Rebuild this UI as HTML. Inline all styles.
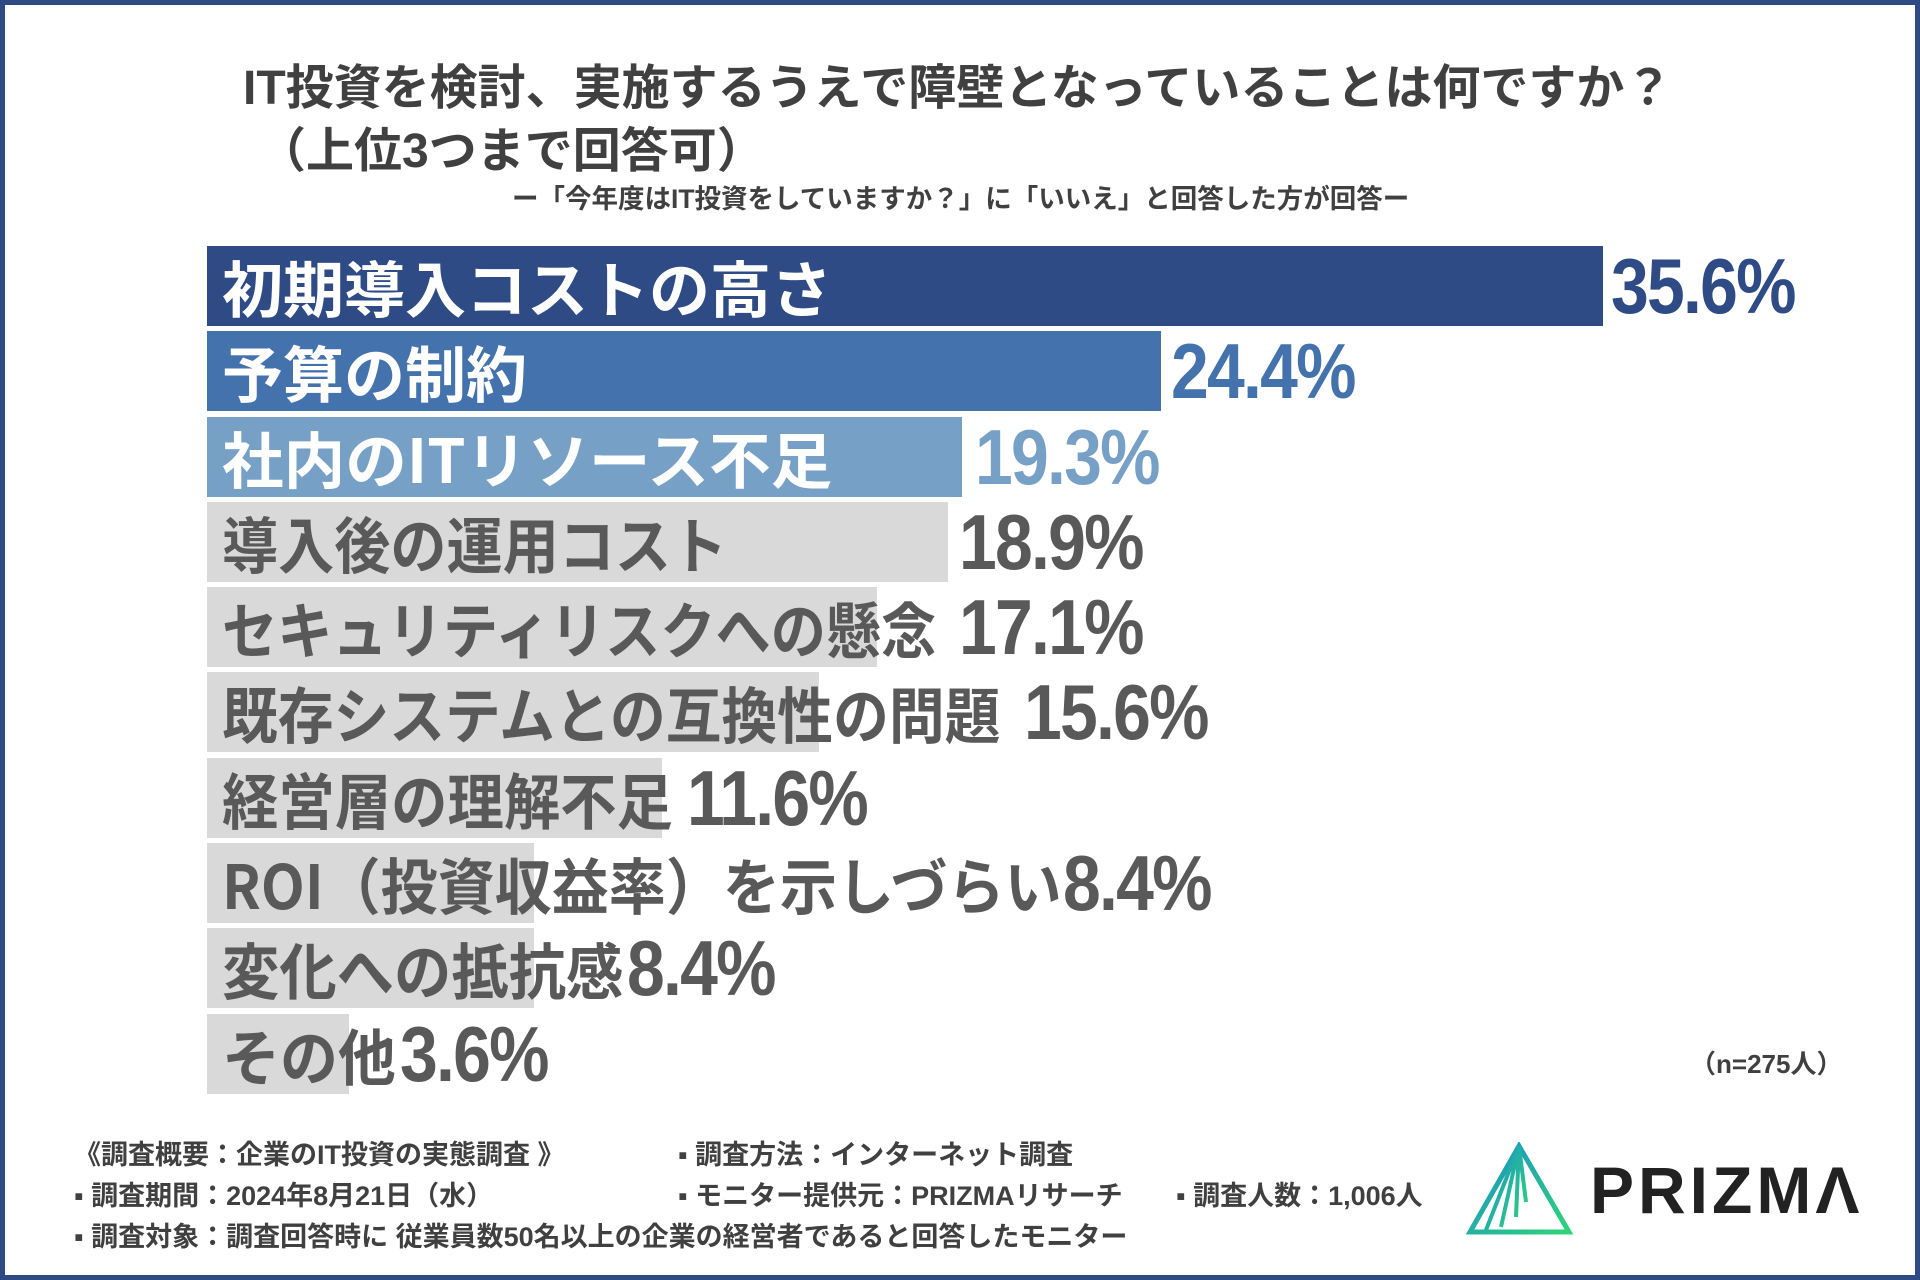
<!DOCTYPE html>
<html><head><meta charset="utf-8"><style>
body{margin:0;}
#c{position:relative;width:1920px;height:1280px;background:#fff;box-shadow:inset 0 0 0 5px #2e4b85;overflow:hidden;font-family:"Liberation Sans","Noto Sans CJK JP",sans-serif;}
.a{position:absolute;white-space:nowrap;}
.bar{position:absolute;left:207px;height:80px;}
.lb{position:absolute;left:222px;font-weight:bold;font-size:61px;line-height:80px;font-family:"Noto Sans CJK JP",sans-serif;transform-origin:left center;white-space:nowrap;}
.v{position:absolute;font-weight:bold;font-size:78px;line-height:80px;transform:scaleX(0.87);transform-origin:left center;font-family:"Liberation Sans",sans-serif;letter-spacing:-2px;}
.f{position:absolute;font-size:27px;font-weight:bold;color:#404040;font-family:"Liberation Sans","Noto Sans CJK JP",sans-serif;white-space:nowrap;}
</style></head><body><div id="c">
<div class="a" style="left:243px;top:48px;font-size:48px;font-weight:bold;color:#404040;font-family:'Liberation Sans','Noto Sans CJK JP',sans-serif;">IT投資を検討、実施するうえで障壁となっていることは何ですか？</div>
<div class="a" style="left:258px;top:111px;font-size:48px;font-weight:bold;color:#404040;font-family:'Liberation Sans','Noto Sans CJK JP',sans-serif;">（上位3つまで回答可）</div>
<div class="a" style="left:512px;top:177px;font-size:26.5px;font-weight:bold;color:#404040;font-family:'Liberation Sans','Noto Sans CJK JP',sans-serif;">ー「今年度はIT投資をしていますか？」に「いいえ」と回答した方が回答ー</div>

<div class="bar" style="top:246px;width:1396px;background:#2e4b85"></div>
<div class="bar" style="top:331px;width:954px;background:#4472ad"></div>
<div class="bar" style="top:417px;width:755px;background:#76a0c6"></div>
<div class="bar" style="top:502px;width:741px;background:#d9d9d9"></div>
<div class="bar" style="top:587px;width:670px;background:#d9d9d9"></div>
<div class="bar" style="top:672px;width:612px;background:#d9d9d9"></div>
<div class="bar" style="top:758px;width:455px;background:#d9d9d9"></div>
<div class="bar" style="top:843px;width:327px;background:#d9d9d9"></div>
<div class="bar" style="top:928px;width:327px;background:#d9d9d9"></div>
<div class="bar" style="top:1014px;width:142px;background:#d9d9d9"></div>

<div class="lb" style="top:246px;color:#fff">初期導入コストの高さ</div>
<div class="lb" style="top:331px;color:#fff">予算の制約</div>
<div class="lb" style="top:417px;color:#fff;transform:scaleX(1.01)">社内のITリソース不足</div>
<div class="lb" style="top:502px;color:#595959;transform:scaleX(0.92)">導入後の運用コスト</div>
<div class="lb" style="top:587px;color:#595959;transform:scaleX(0.905)">セキュリティリスクへの懸念</div>
<div class="lb" style="top:672px;color:#595959;transform:scaleX(0.914)">既存システムとの互換性の問題</div>
<div class="lb" style="top:758px;color:#595959;transform:scaleX(0.924)">経営層の理解不足</div>
<div class="lb" style="top:843px;color:#595959;transform:scaleX(0.935)">ROI（投資収益率）を示しづらい</div>
<div class="lb" style="top:928px;color:#595959;transform:scaleX(0.94)">変化への抵抗感</div>
<div class="lb" style="top:1014px;color:#595959;transform:scaleX(0.95)">その他</div>

<div class="v" style="left:1611px;top:246px;color:#2e4b85">35.6%</div>
<div class="v" style="left:1171px;top:331px;color:#4472ad">24.4%</div>
<div class="v" style="left:975px;top:417px;color:#76a0c6">19.3%</div>
<div class="v" style="left:959px;top:502px;color:#595959">18.9%</div>
<div class="v" style="left:959px;top:587px;color:#595959">17.1%</div>
<div class="v" style="left:1024px;top:672px;color:#595959">15.6%</div>
<div class="v" style="left:687px;top:758px;color:#595959">11.6%</div>
<div class="v" style="left:1063px;top:843px;color:#595959">8.4%</div>
<div class="v" style="left:627px;top:928px;color:#595959">8.4%</div>
<div class="v" style="left:400px;top:1014px;color:#595959">3.6%</div>

<div class="f" style="left:1690px;top:1044px;font-size:26px;">（n=275人）</div>

<div class="f" style="left:74px;top:1133px;">《調査概要：企業のIT投資の実態調査 》</div>
<div class="f" style="left:678px;top:1133px;">▪ 調査方法：インターネット調査</div>
<div class="f" style="left:74px;top:1174px;">▪ 調査期間：2024年8月21日（水）</div>
<div class="f" style="left:678px;top:1174px;">▪ モニター提供元：PRIZMAリサーチ</div>
<div class="f" style="left:1176px;top:1174px;">▪ 調査人数：1,006人</div>
<div class="f" style="left:74px;top:1215px;">▪ 調査対象：調査回答時に 従業員数50名以上の企業の経営者であると回答したモニター</div>

<svg class="a" style="left:1466px;top:1142px" width="110" height="95" viewBox="0 0 110 95">
<defs><linearGradient id="g" x1="0" y1="0" x2="1" y2="1"><stop offset="0" stop-color="#1a8fc9"/><stop offset="1" stop-color="#2ed47a"/></linearGradient></defs>
<polygon points="53,4 103,90 4,90" fill="none" stroke="url(#g)" stroke-width="5"/>
<path d="M53,4 L20,88 M53,4 L35,85 M53,4 L50,75 M53,4 L60,60" stroke="url(#g)" stroke-width="4" fill="none"/>
</svg>
<div class="a" style="left:1590px;top:1150px;font-size:66px;font-weight:bold;color:#222;letter-spacing:4px;font-family:'Liberation Sans',sans-serif;line-height:80px;">PRIZMΛ</div>
</div></body></html>
